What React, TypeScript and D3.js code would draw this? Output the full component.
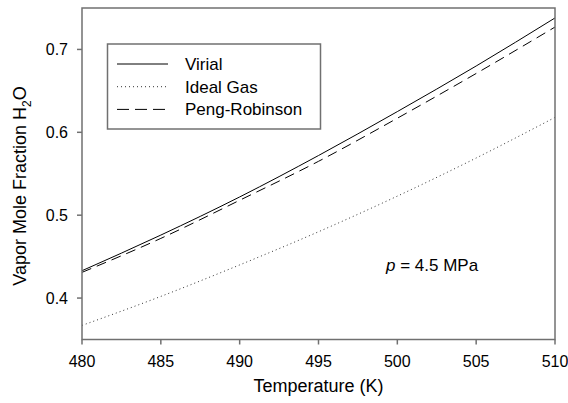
import React from 'react'
import * as d3 from 'd3'

const width = 568
const height = 403
const margin = { top: 8, right: 13, bottom: 63.5, left: 82 }

const temps = [480, 485, 490, 495, 500, 505, 510]
const virial = [0.433, 0.476, 0.522, 0.572, 0.625, 0.68, 0.738]
const idealGas = [0.367, 0.402, 0.44, 0.48, 0.523, 0.569, 0.618]
const pengRobinson = [0.431, 0.472, 0.518, 0.565, 0.617, 0.671, 0.727]

const xTicks = [480, 485, 490, 495, 500, 505, 510]
const yTicks = [0.4, 0.5, 0.6, 0.7]

const series = [
  { name: 'Virial', values: virial, dash: null, color: '#000' },
  { name: 'Ideal Gas', values: idealGas, dash: '1,3', color: '#333' },
  { name: 'Peng-Robinson', values: pengRobinson, dash: '10,6', color: '#000' },
]

const font = 'Arial, "Liberation Sans", sans-serif'
const frame = '#707070'

export default function App() {
  const x = d3
    .scaleLinear()
    .domain([480, 510])
    .range([margin.left, width - margin.right])
  const y = d3
    .scaleLinear()
    .domain([0.35, 0.75])
    .range([height - margin.bottom, margin.top])

  const line = d3
    .line<number>()
    .x((d, i) => x(temps[i]))
    .y(d => y(d))
    .curve(d3.curveMonotoneX)

  const x0 = x(480)
  const x1 = x(510)
  const y0 = y(0.35)
  const y1 = y(0.75)

  return (
    <svg
      width={width}
      height={height}
      style={{ position: 'absolute', left: 0, top: 0, background: '#fff' }}
      fontFamily={font}
    >
      {series.map(s => (
        <path
          key={s.name}
          d={line(s.values) || ''}
          fill="none"
          stroke={s.color}
          strokeWidth={1}
          strokeDasharray={s.dash || undefined}
        />
      ))}

      <rect x={x0} y={y1} width={x1 - x0} height={y0 - y1} fill="none" stroke={frame} strokeWidth={1.5} />

      {xTicks.map(t => (
        <g key={t}>
          <line x1={x(t)} x2={x(t)} y1={y0} y2={y0 + 5} stroke={frame} strokeWidth={1.5} />
          <text x={x(t)} y={367} textAnchor="middle" fontSize={16} fill="#000">
            {t}
          </text>
        </g>
      ))}
      {yTicks.map(t => (
        <g key={t}>
          <line x1={x0 - 5} x2={x0} y1={y(t)} y2={y(t)} stroke={frame} strokeWidth={1.5} />
          <text x={68} y={y(t) + 5.7} textAnchor="end" fontSize={16} fill="#000">
            {t.toFixed(1)}
          </text>
        </g>
      ))}

      <text x={(x0 + x1) / 2} y={392} textAnchor="middle" fontSize={18} fill="#000">
        Temperature (K)
      </text>
      <text transform="translate(26,186) rotate(-90)" textAnchor="middle" fontSize={18} fill="#000">
        Vapor Mole Fraction H
        <tspan fontSize={12} dy={5}>2</tspan>
        <tspan dy={-5}>O</tspan>
      </text>

      <rect x={107.5} y={44} width={213} height={85} fill="#fff" stroke={frame} strokeWidth={1.5} />
      {series.map((s, i) => (
        <g key={s.name}>
          <line
            x1={117}
            x2={168}
            y1={64 + i * 22.7}
            y2={64 + i * 22.7}
            stroke={s.color}
            strokeWidth={1}
            strokeDasharray={s.dash === '10,6' ? '12,6' : s.dash || undefined}
          />
          <text x={185} y={70 + i * 22.7} fontSize={17} fill="#000">
            {s.name}
          </text>
        </g>
      ))}

      <text x={386} y={271} fontSize={17} fill="#000">
        <tspan fontStyle="italic">p</tspan> = 4.5 MPa
      </text>
    </svg>
  )
}
